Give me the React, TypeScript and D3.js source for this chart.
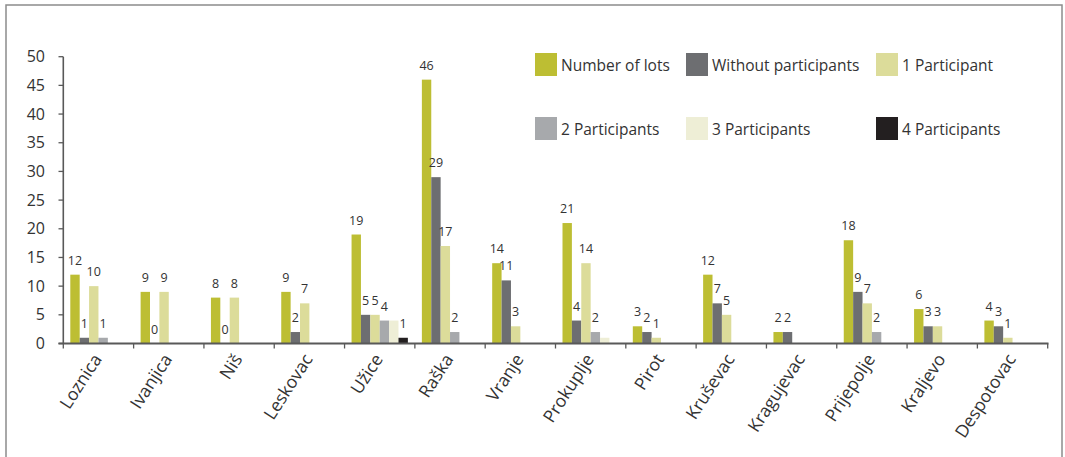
import React from "react";
import * as d3 from "d3";

// Lots per municipality, split by number of participants
const categories = [
  "Loznica", "Ivanjica", "Niš", "Leskovac", "Užice", "Raška", "Vranje",
  "Prokuplje", "Pirot", "Kruševac", "Kragujevac", "Prijepolje", "Kraljevo", "Despotovac",
];
const seriesNames = [
  "Number of lots", "Without participants", "1 Participant",
  "2 Participants", "3 Participants", "4 Participants",
];
const numberOfLots = [12, 9, 8, 9, 19, 46, 14, 21, 3, 12, 2, 18, 6, 4];
const withoutParticipants = [1, 0, 0, 2, 5, 29, 11, 4, 2, 7, 2, 9, 3, 3];
const oneParticipant = [10, 9, 8, 7, 5, 17, 3, 14, 1, 5, null, 7, 3, 1];
const twoParticipants = [1, null, null, null, 4, 2, null, 2, null, null, null, 2, null, null];
const threeParticipants = [null, null, null, null, 4, null, null, 1, null, null, null, null, null, null];
const fourParticipants = [null, null, null, null, 1, null, null, null, null, null, null, null, null, null];
const yTicks = [0, 5, 10, 15, 20, 25, 30, 35, 40, 45, 50];

const seriesValues: (number | null)[][] = [
  numberOfLots, withoutParticipants, oneParticipant,
  twoParticipants, threeParticipants, fourParticipants,
];
const colors = ["#BDBE33", "#6D6E71", "#DCDC9A", "#A7A9AC", "#EEEED6", "#231F20"];
const showLabels = [true, true, true, true, false, true];

const W = 1065;
const H = 457;
const font = "'Open Sans', sans-serif";

export default function App() {
  const x0 = d3.scaleBand<string>().domain(categories).range([63.3, 1047.7]).padding(0);
  const bw = x0.bandwidth();
  const x1 = d3.scaleBand<number>().domain(d3.range(seriesNames.length)).range([7, bw - 7]).padding(0);
  const y = d3.scaleLinear().domain([0, 50]).range([343.5, 56.7]);

  const legendPos = [
    [535, 53], [686, 53], [876, 53],
    [535, 117], [686, 117], [876, 117],
  ];

  return (
    <svg
      width={W}
      height={H}
      style={{ position: "absolute", left: 0, top: 0, background: "#fff" }}
      fontFamily={font}
    >
      <rect x={6} y={5} width={1056} height={470} fill="none" stroke="#8c8c8c" strokeWidth={1.5} />

      {/* bars */}
      {categories.map((c, ci) => (
        <g key={c} transform={`translate(${x0(c)},0)`}>
          {seriesValues.map((vals, si) => {
            const v = vals[ci];
            if (v === null || v === undefined) return null;
            const bx = x1(si)!;
            return (
              <g key={si}>
                <rect
                  x={bx}
                  y={y(v)}
                  width={x1.bandwidth()}
                  height={y(0) - y(v)}
                  fill={colors[si]}
                />
                {showLabels[si] && (
                  <text
                    x={bx + x1.bandwidth() / 2}
                    y={y(v) - 10}
                    textAnchor="middle"
                    fontSize={12.5}
                    fill="#333"
                  >
                    {v}
                  </text>
                )}
              </g>
            );
          })}
        </g>
      ))}

      {/* y axis */}
      <line x1={63.3} x2={63.3} y1={y(50)} y2={y(0)} stroke="#595959" strokeWidth={1.6} />
      {yTicks.map((t) => (
        <g key={t}>
          <line x1={58.5} x2={63.3} y1={y(t)} y2={y(t)} stroke="#595959" strokeWidth={1.3} />
          <text x={45} y={y(t) + 5.5} textAnchor="end" fontSize={16} fill="#333">
            {t}
          </text>
        </g>
      ))}

      {/* x axis */}
      <line x1={58.5} x2={1048.5} y1={y(0)} y2={y(0)} stroke="#595959" strokeWidth={2} />
      {[...categories.map((c) => x0(c)!), 1047.7].map((px, i) => (
        <line key={i} x1={px} x2={px} y1={y(0)} y2={y(0) + 5} stroke="#595959" strokeWidth={1.3} />
      ))}
      {categories.map((c) => {
        const cx = x0(c)! + bw / 2;
        return (
          <text
            key={c}
            transform={`translate(${cx + 4},${359}) rotate(-57)`}
            textAnchor="end"
            fontSize={17.5}
            fill="#333"
          >
            {c}
          </text>
        );
      })}

      {/* legend */}
      {seriesNames.map((name, i) => (
        <g key={name} transform={`translate(${legendPos[i][0]},${legendPos[i][1]})`}>
          <rect width={22} height={23} fill={colors[i]} />
          <text x={26} y={17.5} fontSize={15.5} fill="#333">
            {name}
          </text>
        </g>
      ))}
    </svg>
  );
}
